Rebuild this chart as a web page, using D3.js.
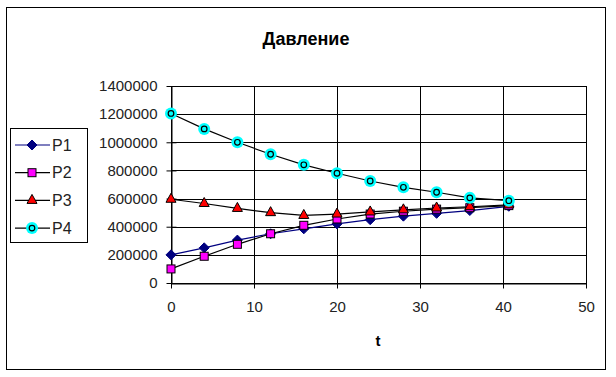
<!DOCTYPE html>
<html>
<head>
<meta charset="utf-8">
<script src="https://cdn.jsdelivr.net/npm/d3@7"></script>
<style>
  body { margin: 0; background: #fff; }
  svg { display: block; font-family: "Liberation Sans", Arial, sans-serif; }
</style>
</head>
<body>
<div id="chart"></div>
<script>
const t = [0, 4, 8, 12, 16, 20, 24, 28, 32, 36, 40.7];
const P1 = [200000, 250000, 305000, 350000, 385000, 420000, 450000, 475000, 495000, 515000, 545000];
const P2 = [100000, 190000, 275000, 350000, 410000, 455000, 490000, 510000, 525000, 535000, 550000];
const P3 = [595000, 565000, 530000, 500000, 480000, 490000, 505000, 520000, 533000, 542000, 555000];
const P4 = [1205000, 1095000, 1000000, 915000, 840000, 780000, 725000, 680000, 645000, 605000, 585000];
const xTicks = [0, 10, 20, 30, 40, 50];
const yTicks = [0, 200000, 400000, 600000, 800000, 1000000, 1200000, 1400000];

const series = [
  { name: 'P1', values: P1, line: '#000080', marker: 'diamond' },
  { name: 'P2', values: P2, line: '#000000', marker: 'square' },
  { name: 'P3', values: P3, line: '#000000', marker: 'triangle' },
  { name: 'P4', values: P4, line: '#000000', marker: 'circle' }
];

const width = 616, height = 377;
const margin = { top: 86, right: 30, bottom: 94, left: 171 };

const svg = d3.select('#chart').append('svg')
  .attr('width', width).attr('height', height);

// outer frame
svg.append('rect')
  .attr('x', 6.5).attr('y', 7.5).attr('width', 599).attr('height', 362)
  .attr('fill', '#fff').attr('stroke', '#000').attr('stroke-width', 1);

const x = d3.scaleLinear().domain([0, 50]).range([margin.left, width - margin.right]);
const y = d3.scaleLinear().domain([0, 1400000]).range([height - margin.bottom, margin.top]);

// gridlines
svg.append('g').selectAll('line').data(yTicks).enter().append('line')
  .attr('x1', x(0)).attr('x2', x(50))
  .attr('y1', (d) => Math.round(y(d)) + 0.5).attr('y2', (d) => Math.round(y(d)) + 0.5)
  .attr('stroke', '#000');
svg.append('g').selectAll('line').data(xTicks).enter().append('line')
  .attr('x1', (d) => Math.round(x(d)) + 0.5).attr('x2', (d) => Math.round(x(d)) + 0.5)
  .attr('y1', y(1400000)).attr('y2', y(0))
  .attr('stroke', '#000');

// axes (cross ticks)
const yAxis = svg.append('g')
  .attr('transform', `translate(${Math.round(x(0)) + 0.5},0)`)
  .call(d3.axisLeft(y).tickValues(yTicks).tickSizeInner(5).tickSizeOuter(0).tickPadding(9).tickFormat(d3.format('d')));
yAxis.selectAll('.tick line').attr('x2', 5).attr('x1', -5).attr('stroke', '#000');
yAxis.select('.domain').attr('stroke', '#000');
yAxis.selectAll('text').attr('fill', '#222').style('font-size', '15px')
  .attr('font-family', '"Liberation Sans", Arial, sans-serif');

const xAxis = svg.append('g')
  .attr('transform', `translate(0,${Math.round(y(0)) + 0.5})`)
  .call(d3.axisBottom(x).tickValues(xTicks).tickSizeInner(5).tickSizeOuter(0).tickPadding(13).tickFormat(d3.format('d')));
xAxis.selectAll('.tick line').attr('y1', -3).attr('y2', 5).attr('stroke', '#000');
xAxis.select('.domain').attr('stroke', '#000');
xAxis.selectAll('text').attr('fill', '#222').style('font-size', '15px')
  .attr('font-family', '"Liberation Sans", Arial, sans-serif');

// title and axis label
svg.append('text')
  .attr('x', 306).attr('y', 45).attr('text-anchor', 'middle')
  .style('font-size', '18px').style('font-weight', 'bold')
  .text('Давление');
svg.append('text')
  .attr('x', 378).attr('y', 346).attr('text-anchor', 'middle')
  .style('font-size', '15px').style('font-weight', 'bold')
  .text('t');

// lines
const line = d3.line().x((d) => x(d[0])).y((d) => y(d[1]));
series.forEach((s) => {
  svg.append('path')
    .datum(t.map((tv, i) => [tv, s.values[i]]))
    .attr('d', line)
    .attr('fill', 'none')
    .attr('stroke', s.line)
    .attr('stroke-width', 1.2);
});

function drawMarker(g, type, cx, cy) {
  if (type === 'diamond') {
    g.append('path').attr('d', `M${cx},${cy - 5}L${cx + 5},${cy}L${cx},${cy + 5}L${cx - 5},${cy}Z`)
      .attr('fill', '#000080').attr('stroke', '#000080');
  } else if (type === 'square') {
    g.append('rect').attr('x', cx - 4).attr('y', cy - 4).attr('width', 8).attr('height', 8)
      .attr('fill', '#ff00ff').attr('stroke', '#000').attr('stroke-width', 1);
  } else if (type === 'triangle') {
    g.append('path').attr('d', `M${cx},${cy - 6}L${cx + 5},${cy + 3}L${cx - 5},${cy + 3}Z`)
      .attr('fill', '#ff0000').attr('stroke', '#000').attr('stroke-width', 1);
  } else {
    g.append('circle').attr('cx', cx).attr('cy', cy).attr('r', 6)
      .attr('fill', '#00ffff');
    g.append('circle').attr('cx', cx).attr('cy', cy).attr('r', 2.8)
      .attr('fill', 'none').attr('stroke', '#000').attr('stroke-width', 1.2);
  }
}

series.forEach((s) => {
  const g = svg.append('g');
  t.forEach((tv, i) => drawMarker(g, s.marker, x(tv), y(s.values[i])));
});

// legend
const legend = svg.append('g');
legend.append('rect')
  .attr('x', 10.5).attr('y', 128.5).attr('width', 77).attr('height', 114)
  .attr('fill', '#fff').attr('stroke', '#000');
series.forEach((s, i) => {
  const ly = 145 + i * 27.7;
  const g = legend.append('g');
  g.append('line').attr('x1', 15).attr('x2', 50).attr('y1', ly).attr('y2', ly)
    .attr('stroke', s.line).attr('stroke-width', 1.2);
  drawMarker(g, s.marker, 32, ly);
  g.append('text').attr('x', 52).attr('y', ly + 5.5)
    .style('font-size', '16px').attr('fill', '#222')
    .text(s.name);
});
</script>
</body>
</html>
